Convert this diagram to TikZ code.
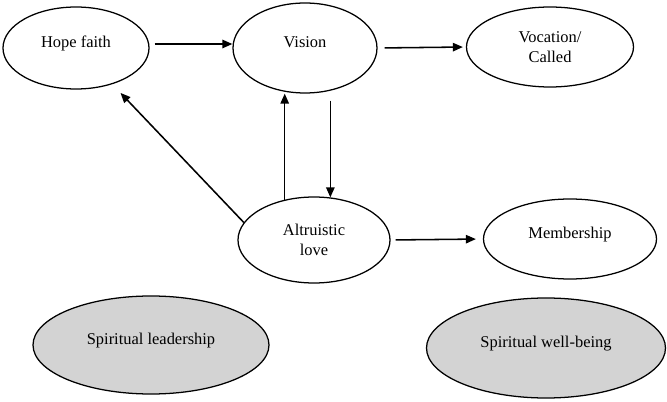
\documentclass[tikz,border=0pt]{standalone}
\usepackage{fontspec}
\setmainfont{Liberation Serif}
\usetikzlibrary{arrows.meta,shapes.geometric}
\definecolor{grisclaro}{HTML}{D3D3D3}

\begin{document}
\begin{tikzpicture}[>={Triangle[length=2.5mm,width=2.1mm]}, line join=round,
    font=\fontsize{11.7}{14.2}\selectfont,
    burbuja/.style={ellipse, draw, line width=0.9pt, inner sep=0pt, align=center},
    unalinea/.style={text height=0.3cm, text depth=0.3cm},
    flecha/.style={->, line width=1.1pt}]
  \fill[white] (0,0) rectangle (16.675,-10.05);
  \useasboundingbox (0,0) rectangle (16.675,-10.05);

  % Fila superior
  \node[burbuja, unalinea, minimum width=3.65cm, minimum height=2.05cm] (hope) at (1.90,-1.20) {Hope faith};
  \node[burbuja, unalinea, minimum width=3.60cm, minimum height=2.25cm] (vision) at (7.625,-1.20) {Vision};
  \node[burbuja, minimum width=4.175cm, minimum height=2.0cm] (vocation) at (13.75,-1.175) {Vocation/\\Called};

  % Fila media
  \node[burbuja, minimum width=3.80cm, minimum height=2.15cm] (altruistic) at (7.85,-6.0) {Altruistic\\love};
  \node[burbuja, unalinea, minimum width=4.325cm, minimum height=2.0cm] (membership) at (14.25,-5.975) {Membership};

  % Resultados
  \node[burbuja, unalinea, fill=grisclaro, minimum width=5.9cm, minimum height=2.45cm] (leadership) at (3.775,-8.625) {Spiritual leadership};
  \node[burbuja, unalinea, fill=grisclaro, minimum width=5.975cm, minimum height=2.5cm] (wellbeing) at (13.65,-8.70) {Spiritual well-being};

  % Flechas
  \draw[flecha, shorten <=0.125cm] ([yshift=0.1cm]hope.east) -- ([yshift=0.1cm]vision.west);
  \draw[flecha, shorten <=0.175cm, shorten >=0.075cm] (vision.east) -- (vocation.west);
  \draw[flecha] (altruistic.126) -- (altruistic.126 |- vision.south);
  \draw[flecha, shorten <=0.175cm] (altruistic.69 |- vision.south) -- (altruistic.69);
  \draw[flecha, shorten >=0.3cm] (altruistic.166) -- (hope.-45);
  \draw[flecha, shorten <=0.125cm, shorten >=0.175cm] (altruistic.east) -- (membership.west);
\end{tikzpicture}
\end{document}
